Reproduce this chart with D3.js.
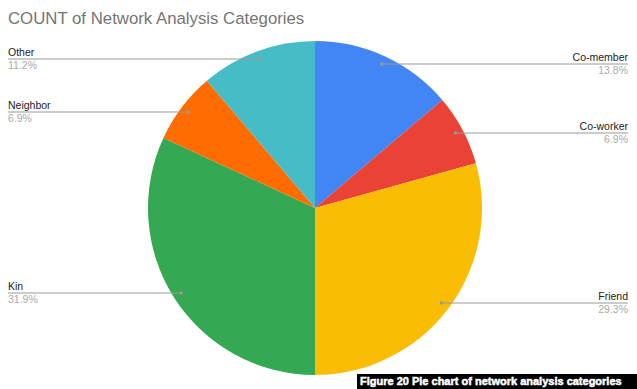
<!DOCTYPE html>
<html>
<head>
<meta charset="utf-8">
<script src="https://cdn.jsdelivr.net/npm/d3@7"></script>
<style>
  html, body { margin: 0; padding: 0; background: #fff; }
  svg { display: block; }
</style>
</head>
<body>
<svg id="chart" width="637" height="389"></svg>
<script>
// Category counts, drawn clockwise from 12 o'clock
const categories = ["Co-member", "Co-worker", "Friend", "Kin", "Neighbor", "Other"];
const counts = [16, 8, 34, 37, 8, 13];
const colors = ["#4285F4", "#EA4335", "#FBBC04", "#34A853", "#FF6D01", "#46BDC6"];
// Label rows: which side each label sits on, and vertical position of its leader line
const labelSide = ["right", "right", "right", "left", "left", "left"];
const labelLineY = [64, 133, 303, 293, 112, 59];

const svg = d3.select("#chart");
const W = 637, H = 389;
const cx = 315, cy = 208, R = 167, dotR = 159;

svg.append("text")
  .attr("x", 8).attr("y", 24)
  .attr("font-family", "Liberation Sans, Arial, sans-serif")
  .attr("font-size", 16.8)
  .attr("fill", "#757575")
  .text("COUNT of Network Analysis Categories");

const total = d3.sum(counts);
const pie = d3.pie().sort(null).value(d => d)(counts);
const arc = d3.arc().innerRadius(0).outerRadius(R);

const g = svg.append("g").attr("transform", `translate(${cx},${cy})`);
g.selectAll("path.slice")
  .data(pie)
  .join("path")
  .attr("class", "slice")
  .attr("d", arc)
  .attr("fill", (d, i) => colors[i]);

const fmt = v => (v / total * 100).toFixed(1) + "%";

pie.forEach((d, i) => {
  const a = (d.startAngle + d.endAngle) / 2;
  const px = cx + dotR * Math.sin(a);
  const py = labelLineY[i];
  const right = labelSide[i] === "right";
  const xEnd = right ? 628 : 8;
  svg.append("line")
    .attr("x1", px).attr("y1", py)
    .attr("x2", xEnd).attr("y2", py)
    .attr("stroke", "#999").attr("stroke-width", 1);
  svg.append("circle")
    .attr("cx", px).attr("cy", py).attr("r", 1.8)
    .attr("fill", "#999");
  svg.append("text")
    .attr("x", xEnd).attr("y", py - 3)
    .attr("text-anchor", right ? "end" : "start")
    .attr("font-family", "Liberation Sans, Arial, sans-serif")
    .attr("font-size", 10.5)
    .attr("fill", "#222")
    .text(categories[i]);
  svg.append("text")
    .attr("x", xEnd).attr("y", py + 10)
    .attr("text-anchor", right ? "end" : "start")
    .attr("font-family", "Liberation Sans, Arial, sans-serif")
    .attr("font-size", 10.5)
    .attr("fill", "#aaa")
    .text(fmt(counts[i]));
});

// Figure caption bar
svg.append("rect")
  .attr("x", 357).attr("y", 374)
  .attr("width", W - 357).attr("height", 15)
  .attr("fill", "#000");
const cap = svg.append("text")
  .attr("x", 360).attr("y", 385)
  .attr("font-family", "Liberation Sans, Arial, sans-serif")
  .attr("font-weight", "bold")
  .attr("font-size", 11)
  .attr("fill", "#fff")
  .attr("stroke", "#fff").attr("stroke-width", 0.5)
  .text("Figure 20 Pie chart of network analysis categories");
// keep the caption inside the bar
const avail = W - 360 - 2;
const len = cap.node().getComputedTextLength();
if (len > avail) cap.attr("font-size", 11 * avail / len);
</script>
</body>
</html>
